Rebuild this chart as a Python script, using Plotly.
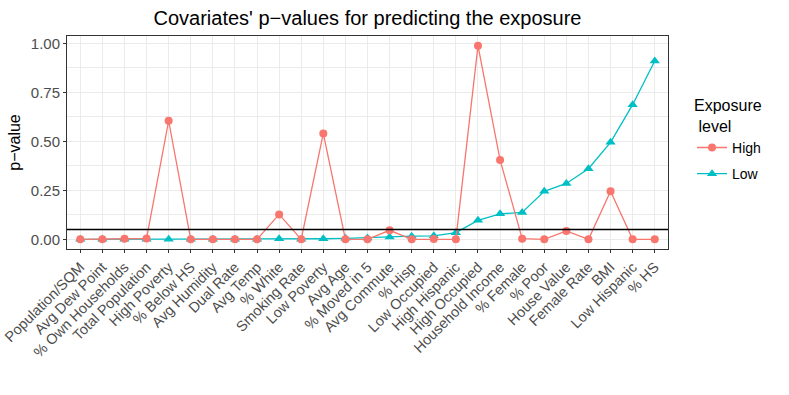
import plotly.graph_objects as go

covariates = ["Population/SQM", "Avg Dew Point", "% Own Households", "Total Population",
              "High Poverty", "% Below HS", "Avg Humidity", "Dual Rate", "Avg Temp",
              "% White", "Smoking Rate", "Low Poverty", "Avg Age", "% Moved in 5",
              "Avg Commute", "% Hisp", "Low Occupied", "High Hispanic", "High Occupied",
              "Household Income", "% Female", "% Poor", "House Value", "Female Rate",
              "BMI", "Low Hispanic", "% HS"]

p_high = [0.0, 0.0, 0.003, 0.004, 0.605, 0.0, 0.0, 0.0, 0.0,
          0.127, 0.0, 0.54, 0.0, 0.0, 0.046, 0.0, 0.001, 0.0, 0.988,
          0.405, 0.003, 0.0, 0.043, 0.0, 0.245, 0.0, 0.0]

p_low = [0.0, 0.0, 0.0, 0.0, 0.0, 0.0, 0.0, 0.0, 0.0,
         0.003, 0.0, 0.003, 0.005, 0.007, 0.012, 0.016, 0.018, 0.034, 0.097,
         0.13, 0.137, 0.245, 0.285, 0.36, 0.495, 0.687, 0.91]

threshold = 0.05

red = "#F8766D"
teal = "#00BFC4"
font = "Liberation Sans, Arial, sans-serif"

fig = go.Figure()
# low first so the circles sit on top, like the ggplot original
fig.add_trace(go.Scatter(x=covariates, y=p_low, mode="lines+markers", name="Low",
                         line=dict(color=teal, width=1.3),
                         marker=dict(symbol="triangle-up", size=9, color=teal),
                         legendrank=2, legendgroup="low"))
fig.add_trace(go.Scatter(x=covariates, y=p_high, mode="lines+markers", name="High",
                         line=dict(color=red, width=1.3),
                         marker=dict(symbol="circle", size=8, color=red),
                         legendrank=1, legendgroup="high"))

fig.add_hline(y=threshold, line=dict(color="black", width=1.4), layer="above")

ymax = max(p_high + p_low)
pad = 0.05 * ymax

fig.update_layout(
    width=789, height=395,
    margin=dict(l=67, r=121, t=36, b=146),
    paper_bgcolor="white", plot_bgcolor="white",
    font=dict(family=font, size=15, color="#4d4d4d"),
    title=dict(text="Covariates' p\u2212values for predicting the exposure",
               x=0.5, xref="paper", xanchor="center",
               y=1 - 18 / 395, yref="container", yanchor="middle",
               font=dict(size=20, color="black")),
    legend=dict(title=dict(text="Exposure<br> level", font=dict(size=16, color="black")),
                x=1.04, xanchor="left", y=0.745, yanchor="top",
                traceorder="grouped", tracegroupgap=5,
                font=dict(size=14, color="black")),
    showlegend=True,
)

fig.update_xaxes(type="category", categoryorder="array", categoryarray=covariates,
                 range=[-0.6, len(covariates) - 0.4], tickangle=-45, automargin=False,
                 showgrid=True, gridcolor="#ebebeb", gridwidth=1,
                 ticks="outside", ticklen=3, tickcolor="#333333",
                 tickfont=dict(size=14.5, color="#4d4d4d"),
                 showline=True, linecolor="#333333", mirror=True, zeroline=False)

fig.update_yaxes(title=dict(text="p\u2212value", font=dict(size=16, color="black"), standoff=6),
                 range=[-pad, ymax + pad], tickvals=[0, 0.25, 0.5, 0.75, 1.0],
                 ticktext=["0.00", "0.25", "0.50", "0.75", "1.00"], automargin=False,
                 showgrid=True, gridcolor="#ebebeb", gridwidth=1,
                 minor=dict(tickvals=[0.125, 0.375, 0.625, 0.875], showgrid=True,
                            gridcolor="#ebebeb", gridwidth=0.6),
                 ticks="outside", ticklen=3, tickcolor="#333333",
                 tickfont=dict(size=15, color="#4d4d4d"),
                 showline=True, linecolor="#333333", mirror=True, zeroline=False)

# drop the page's default 8px body margin so the figure sits at the window corner
fig.write_html("out.html", config={"displayModeBar": False},
               post_script="document.body.style.margin = '0';")
